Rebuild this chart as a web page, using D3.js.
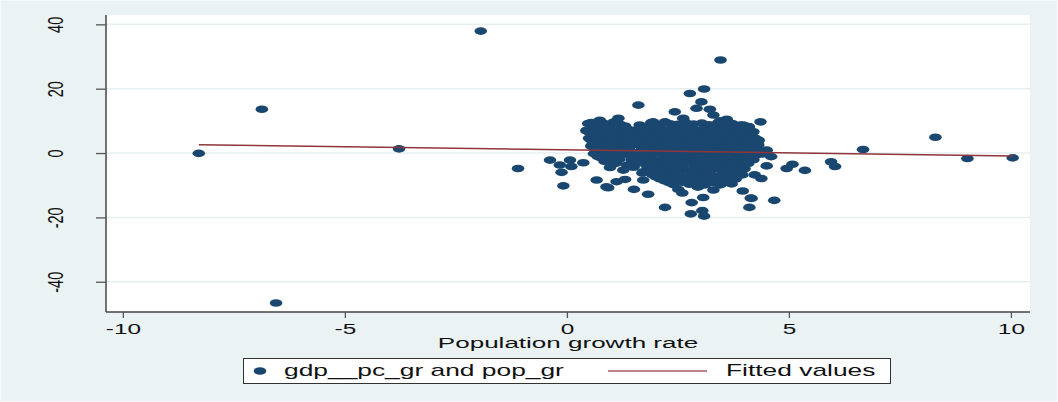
<!DOCTYPE html>
<html lang="en">
<head>
<meta charset="utf-8">
<title>gdp pc growth vs population growth</title>
<script src="https://cdn.jsdelivr.net/npm/d3@7"></script>
<style>
  body { margin: 0; background: #eaf2f3; }
  text { font-family: "Liberation Sans", Arial, sans-serif; fill: #111; }
</style>
</head>
<body>
<script>
// values
var xTicks = [-10, -5, 0, 5, 10];
var yTicks = [-40, -20, 0, 20, 40];
var xTitle = "Population growth rate";
var legendLabels = ["gdp__pc_gr and pop_gr", "Fitted values"];

// fitted line end points (pop_gr, fitted gdp__pc_gr)
var fitX = [-8.29, 10.04];
var fitY = [2.6, -0.93];

// outliers and edge of the cloud [pop_gr, gdp__pc_gr]
var edgeObs = [
  [-8.29,-0.1],[-6.87,13.6],[-6.55,-46.6],[-3.78,1.3],[-1.94,37.9],[6.67,1.1],[8.3,4.9],
  [9.02,-1.7],[10.04,-1.5],[5.95,-2.7],[6.04,-4.2],[5.08,-3.5],[4.95,-4.8],[5.36,-5.4],
  [4.6,-1.1],[4.36,9.7],[4.32,4.0],[4.5,-4.0],[4.23,-6.8],[4.38,-7.9],[3.96,-11.8],
  [4.14,-14.0],[4.67,-14.7],[4.11,-16.9],[3.9,-5.6],[3.46,28.9],[3.09,19.9],[2.77,18.5],
  [1.61,14.9],[3.03,15.9],[2.43,12.8],[2.92,13.9],[3.22,13.6],[1.16,10.8],[0.74,10.2],
  [0.48,9.2],[0.44,6.9],[1.64,8.7],[1.94,9.7],[2.21,9.7],[2.62,10.8],[3.6,10.5],[3.97,8.7],
  [4.05,7.7],[4.31,2.5],[4.5,0.9],[3.71,-9.6],[3.3,-11.5],[3.07,-13.8],[2.81,-15.4],
  [3.05,-17.9],[3.09,-19.6],[2.79,-18.9],[2.21,-16.9],[1.83,-12.8],[1.51,-11.3],[2.51,-11.3],
  [0.93,-10.8],[-0.08,-10.2],[0.67,-8.4],[1.12,-8.9],[1.31,-8.2],[-1.1,-4.8],[-0.38,-2.2],
  [-0.12,-6.0],[-0.16,-3.7],[0.07,-2.2],[0.1,-4.2],[0.37,-3.0],[0.89,-10.5],[0.97,-4.5],
  [1.27,-5.3],[1.72,-5.8],[1.72,-8.4],[2.09,-7.9],[1.46,-2.2],[0.7,-1.1],[0.93,-2.2],
  [0.59,3.0],[0.56,5.1],[0.67,7.7],[0.86,8.2],[1.34,7.7],[3.45,10.0],[3.3,11.8],[3.75,7.7],
  [3.93,-5.5],[4.16,-14.1],[3.45,-9.9],[2.95,-10.6],[2.6,-12.4]
];

// dense core of the cloud [pop_gr, gdp__pc_gr]
var coreObs = [
  [0.55,9.5],[0.82,9.3],[1.05,9.6],[1.9,9.4],[2.32,9.1],[2.66,9.6],[3.04,9.3],[3.41,9.5],[3.72,9.2],
  [0.62,8.3],[0.96,8.1],[1.31,8.4],[1.7,8.2],[2.05,8.5],[2.44,8.2],[2.81,8.4],[3.16,8.1],[3.52,8.3],[3.86,8.0],[4.1,8.2],
  [0.45,7.1],[0.76,7.2],[1.12,6.9],[1.46,7.1],[1.84,7.3],[2.21,7.0],[2.56,7.2],[2.92,7.1],[3.26,6.9],[3.61,7.2],[3.95,7.0],
  [0.6,5.9],[0.91,6.0],[1.26,5.8],[1.6,6.1],[1.99,5.9],[2.36,5.8],[2.71,6.0],[3.06,5.9],[3.4,5.7],[3.76,6.0],[4.06,5.8],
  [0.5,4.6],[0.83,4.7],[1.16,4.5],[1.51,4.6],[1.9,4.8],[2.26,4.5],[2.61,4.7],[2.96,4.6],[3.31,4.4],[3.66,4.7],[4.0,4.5],[4.24,4.6],
  [0.66,3.4],[1.01,3.5],[1.36,3.3],[1.76,3.4],[2.11,3.6],[2.46,3.3],[2.81,3.5],[3.14,3.4],[3.51,3.2],[3.86,3.5],[4.15,3.3],
  [0.55,2.2],[0.9,2.1],[1.24,2.3],[1.66,2.2],[2.01,2.0],[2.36,2.3],[2.71,2.1],[3.06,2.2],[3.41,2.4],[3.74,2.1],[4.1,2.2],
  [0.7,1.0],[1.06,1.1],[1.41,0.9],[1.81,1.0],[2.16,1.2],[2.51,0.9],[2.86,1.1],[3.21,1.0],[3.56,0.8],[3.9,1.1],[4.2,1.0],
  [0.61,-0.2],[0.96,-0.1],[1.31,-0.3],[1.71,-0.2],[2.06,0.0],[2.41,-0.3],[2.76,-0.1],[3.11,-0.2],[3.46,-0.4],[3.8,-0.1],[4.1,-0.2],[4.4,-0.3],
  [0.76,-1.4],[1.11,-1.3],[1.5,-1.5],[1.9,-1.4],[2.26,-1.2],[2.61,-1.5],[2.96,-1.3],[3.31,-1.4],[3.66,-1.6],[4.0,-1.3],
  [0.85,-2.6],[1.56,-2.5],[1.95,-2.7],[2.31,-2.6],[2.66,-2.4],[3.01,-2.7],[3.36,-2.5],[3.71,-2.6],[4.05,-2.8],
  [1.36,-3.8],[1.8,-3.7],[2.16,-3.9],[2.51,-3.8],[2.86,-3.6],[3.21,-3.9],[3.56,-3.7],[3.9,-3.8],
  [1.95,-5.0],[2.31,-4.9],[2.66,-5.1],[3.01,-5.0],[3.36,-4.8],[3.71,-5.1],[4.0,-4.9],
  [1.7,-6.2],[2.1,-6.1],[2.46,-6.3],[2.81,-6.2],[3.16,-6.0],[3.51,-6.3],[3.86,-6.1],
  [2.0,-7.4],[2.36,-7.3],[2.71,-7.5],[3.06,-7.4],[3.41,-7.2],[3.76,-7.5],
  [2.2,-8.6],[2.56,-8.5],[2.91,-8.7],[3.26,-8.6],[3.61,-8.4],
  [2.4,-9.8],[2.76,-9.7],[3.11,-9.9],[3.46,-9.6],
  [1.03,5.2],[1.42,2.8],[1.15,0.4],[2.85,6.6],[3.25,4.0],[3.58,1.6],[2.45,-3.2],[2.9,-8.1],
  [1.78,6.5],[2.15,3.9],[2.62,1.5],[3.35,-1.9],[3.72,-4.3],[1.88,-1.9],[0.78,4.0],[4.05,6.4],
  [2.48,5.3],[3.02,-5.6],[2.25,-6.8],[3.6,-6.8],[1.6,-0.8],[0.98,1.6],[1.45,6.4],[2.05,-4.4]
];

// more countries inside the dense block [pop_gr, gdp__pc_gr]
var fillObs = [
  [0.7,8.9],[1.2,8.9],[2.1,8.8],[2.5,8.9],[2.85,9.0],[3.2,8.8],[3.55,8.9],[3.9,8.7],
  [0.6,7.7],[0.93,7.6],[1.28,7.8],[1.63,7.7],[2.02,7.6],[2.38,7.8],[2.73,7.7],[3.08,7.6],[3.43,7.8],[3.78,7.7],[4.1,7.5],
  [0.5,6.5],[0.78,6.4],[1.08,6.6],[1.43,6.5],[1.81,6.4],[2.18,6.6],[2.53,6.5],[2.88,6.4],[3.23,6.6],[3.58,6.5],[3.92,6.4],[4.2,6.6],
  [0.68,5.3],[1.0,5.4],[1.36,5.2],[1.73,5.3],[2.13,5.4],[2.5,5.2],[2.86,5.3],[3.2,5.4],[3.56,5.2],[3.9,5.3],[4.18,5.1],
  [0.55,4.0],[0.93,4.1],[1.3,3.9],[1.67,4.0],[2.03,4.1],[2.42,3.9],[2.77,4.0],[3.12,4.1],[3.48,3.9],[3.82,4.0],[4.1,4.1],
  [0.72,2.8],[1.08,2.9],[1.52,2.7],[1.93,2.8],[2.28,2.9],[2.63,2.7],[2.98,2.8],[3.33,2.9],[3.68,2.7],[4.0,2.8],[4.3,2.9],
  [0.62,1.6],[1.0,1.5],[1.4,1.7],[1.83,1.6],[2.18,1.5],[2.53,1.7],[2.88,1.6],[3.23,1.5],[3.57,1.7],[3.92,1.6],[4.25,1.5],
  [0.8,0.4],[1.23,0.5],[1.62,0.3],[1.98,0.4],[2.33,0.5],[2.68,0.3],[3.03,0.4],[3.38,0.5],[3.72,0.3],[4.05,0.4],[4.32,0.5],
  [0.68,-0.8],[1.04,-0.7],[1.43,-0.9],[1.8,-0.8],[2.23,-0.7],[2.58,-0.9],[2.93,-0.8],[3.28,-0.7],[3.63,-0.9],[3.96,-0.8],[4.25,-0.7],
  [1.18,-2.0],[1.72,-1.9],[2.1,-2.1],[2.45,-2.0],[2.8,-1.9],[3.15,-2.1],[3.5,-2.0],[3.85,-1.9],[4.2,-2.1],
  [1.1,-3.2],[1.6,-3.1],[1.98,-3.3],[2.33,-3.2],[2.68,-3.1],[3.03,-3.3],[3.38,-3.2],[3.73,-3.1],[4.08,-3.3],
  [1.5,-4.4],[1.82,-4.5],[2.2,-4.3],[2.55,-4.4],[2.9,-4.5],[3.25,-4.3],[3.6,-4.4],[3.88,-4.5],
  [1.85,-5.6],[2.13,-5.5],[2.48,-5.7],[2.83,-5.6],[3.18,-5.5],[3.53,-5.7],[3.82,-5.6],
  [1.93,-6.8],[2.2,-6.7],[2.55,-6.9],[2.9,-6.8],[3.25,-6.7],[3.6,-6.9],[3.95,-6.8],
  [2.1,-8.0],[2.4,-7.9],[2.75,-8.1],[3.1,-8.0],[3.45,-7.9],[3.8,-8.1],
  [2.3,-9.2],[2.6,-9.1],[2.95,-9.3],[3.3,-9.2],[3.62,-9.1]
];

var W = 1058, H = 402;
var plot = { left: 106, right: 1030, top: 15, bottom: 312 };
var stretch = 1.68;
var navy = "#1a476f", maroon = "#90353b";

var x = d3.scaleLinear().domain([-10.38, 10.43]).range([plot.left, plot.right]);
var y = d3.scaleLinear().domain([-49.4, 42.9]).range([plot.bottom, plot.top]);

var svg = d3.select("body").append("svg").attr("width", W).attr("height", H);

svg.append("rect").attr("x", 0.5).attr("y", 0.5).attr("width", W - 1).attr("height", H - 1)
  .attr("fill", "#eaf2f3").attr("stroke", "#f6fafa");

svg.append("rect").attr("x", plot.left).attr("y", plot.top)
  .attr("width", plot.right - plot.left).attr("height", plot.bottom - plot.top)
  .attr("fill", "white");

// gridlines
svg.append("g").selectAll("line").data(yTicks).join("line")
  .attr("x1", plot.left).attr("x2", plot.right)
  .attr("y1", d => y(d)).attr("y2", d => y(d))
  .attr("stroke", "#e6eff0").attr("stroke-width", 1.5);

// points
var allObs = edgeObs.concat(coreObs, fillObs);
svg.append("g").selectAll("ellipse").data(allObs).join("ellipse")
  .attr("cx", d => x(d[0])).attr("cy", d => y(d[1]))
  .attr("rx", 6.3).attr("ry", 3.8)
  .attr("fill", navy);

// fitted line
svg.append("line")
  .attr("x1", x(fitX[0])).attr("y1", y(fitY[0]))
  .attr("x2", x(fitX[1])).attr("y2", y(fitY[1]))
  .attr("stroke", maroon).attr("stroke-width", 1.5);

// axes
var xAxis = svg.append("g").attr("transform", "translate(0," + plot.bottom + ")")
  .call(d3.axisBottom(x).tickValues(xTicks).tickSize(6).tickSizeOuter(0).tickFormat(d => String(d)));
var yAxis = svg.append("g").attr("transform", "translate(" + plot.left + ",0)")
  .call(d3.axisLeft(y).tickValues(yTicks).tickSize(10).tickSizeOuter(0).tickFormat(d => String(d)));

[xAxis, yAxis].forEach(function (g) {
  g.select(".domain").attr("stroke", "#444").attr("stroke-width", 1.5);
  g.selectAll(".tick line").attr("stroke", "#555").attr("stroke-width", 1.3);
  g.selectAll("text").attr("font-size", 14.5).attr("fill", "#111")
    .attr("font-family", "Liberation Sans, Arial, sans-serif");
});
xAxis.select(".domain").attr("d", "M" + plot.left + ",0H" + plot.right);
yAxis.select(".domain").attr("d", "M0," + plot.top + "V" + plot.bottom);

xAxis.selectAll("text")
  .attr("y", null).attr("dy", null).attr("text-anchor", "middle")
  .attr("transform", "translate(0,21.5) scale(" + stretch + ",1)");
yAxis.selectAll("text")
  .attr("x", null).attr("dy", null).attr("text-anchor", "middle")
  .attr("transform", "translate(-43,0) scale(1.55,1) rotate(-90)");

// axis title
svg.append("text")
  .attr("transform", "translate(" + (plot.left + plot.right) / 2 + ",348) scale(" + stretch + ",1)")
  .attr("text-anchor", "middle").attr("font-size", 15.5).text(xTitle);

// legend
var lg = svg.append("g");
lg.append("rect").attr("x", 243.5).attr("y", 358.5).attr("width", 647).attr("height", 25)
  .attr("fill", "white").attr("stroke", "#333").attr("stroke-width", 1);
lg.append("ellipse").attr("cx", 260).attr("cy", 371).attr("rx", 6.3).attr("ry", 3.8).attr("fill", navy);
lg.append("text").attr("transform", "translate(284,375.5) scale(" + stretch + ",1)")
  .attr("font-size", 15.7).text(legendLabels[0]);
lg.append("line").attr("x1", 608).attr("x2", 707).attr("y1", 371).attr("y2", 371)
  .attr("stroke", maroon).attr("stroke-width", 1.5).attr("opacity", 0.8);
lg.append("text").attr("transform", "translate(726,375.5) scale(" + stretch + ",1)")
  .attr("font-size", 15.7).text(legendLabels[1]);
</script>
</body>
</html>
